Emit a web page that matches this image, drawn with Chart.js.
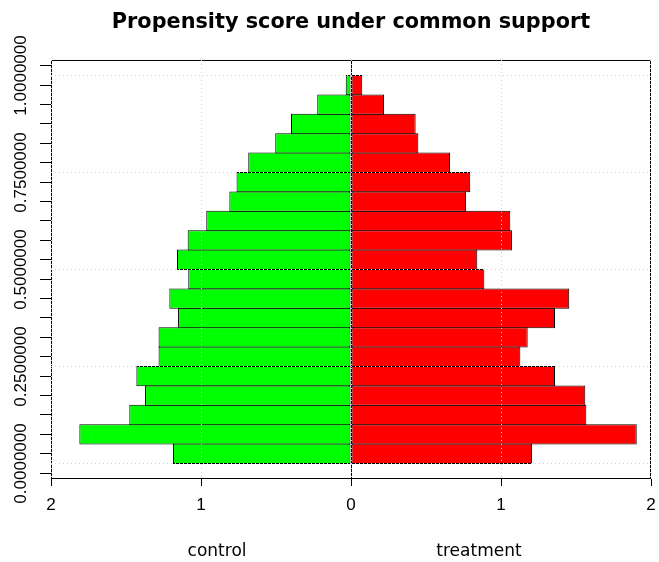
<!DOCTYPE html>
<html>
<head>
<meta charset="utf-8">
<script src="https://cdn.jsdelivr.net/npm/chart.js@4/dist/chart.umd.min.js"></script>
<style>
  html, body { margin: 0; padding: 0; background: #ffffff; }
  #c { display: block; }
</style>
</head>
<body>
<canvas id="c" width="659" height="562"></canvas>
<script>
// Propensity score bins (lower edge of each 0.05-wide bin)
const binLower = [0.00, 0.05, 0.10, 0.15, 0.20, 0.25, 0.30, 0.35, 0.40, 0.45,
                  0.50, 0.55, 0.60, 0.65, 0.70, 0.75, 0.80, 0.85, 0.90, 0.95];
const binWidth = 0.05;

// Density of each group per bin (bottom bin first)
const controlDensity = [1.187, 1.811, 1.478, 1.373, 1.431, 1.283, 1.283, 1.153, 1.211, 1.085,
                        1.160, 1.089, 0.965, 0.811, 0.763, 0.685, 0.505, 0.400, 0.225, 0.035];
const treatmentDensity = [1.207, 1.905, 1.569, 1.562, 1.360, 1.129, 1.178, 1.360, 1.455, 0.889,
                          0.842, 1.073, 1.062, 0.767, 0.795, 0.660, 0.449, 0.431, 0.220, 0.075];

// Axis ticks
const xTickValues = [-2, -1, 0, 1, 2];
const yTickValues = [0.00, 0.05, 0.10, 0.15, 0.20, 0.25, 0.30, 0.35, 0.40, 0.45, 0.50,
                     0.55, 0.60, 0.65, 0.70, 0.75, 0.80, 0.85, 0.90, 0.95, 1.00];
const yLabelValues = [0.00, 0.25, 0.50, 0.75, 1.00];
const groupNames = ['control', 'treatment'];
const groupNameAt = [-0.893, 0.853];

const titleText = 'Propensity score under common support';

// Control bars extend to the left, treatment bars to the right
const controlPoints = controlDensity.map((d, i) => ({ x: -d, y: binLower[i] + binWidth / 2 }));
const treatmentPoints = treatmentDensity.map((d, i) => ({ x: d, y: binLower[i] + binWidth / 2 }));

const isLabelTick = v => yLabelValues.some(l => Math.abs(l - v) < 1e-9);

// Dotted grid, zero line and plot box drawn over the bars
const framePlugin = {
  id: 'frame',
  afterDatasetsDraw(chart) {
    const { ctx, chartArea: a, scales: { x, y } } = chart;
    ctx.save();
    ctx.lineWidth = 1;
    ctx.strokeStyle = '#000000';
    ctx.setLineDash([]);
    ctx.strokeRect(a.left + 0.5, a.top + 0.5, a.right - a.left - 1, a.bottom - a.top - 1);
    const x0 = Math.round(x.getPixelForValue(0)) + 0.5;
    ctx.beginPath();
    ctx.moveTo(x0, a.top);
    ctx.lineTo(x0, a.bottom);
    ctx.stroke();

    ctx.strokeStyle = '#d3d3d3';
    ctx.setLineDash([1, 3]);
    ctx.beginPath();
    xTickValues.forEach(v => {
      let px = Math.round(x.getPixelForValue(v)) + 0.5;
      if (px > a.right) px = a.right - 0.5;
      ctx.moveTo(px, a.top);
      ctx.lineTo(px, a.bottom);
    });
    yLabelValues.forEach(v => {
      const py = Math.round(y.getPixelForValue(v)) + 0.5;
      ctx.moveTo(a.left, py);
      ctx.lineTo(a.right, py);
    });
    ctx.stroke();
    ctx.restore();
  },
  afterDraw(chart) {
    const { ctx, scales: { x } } = chart;
    ctx.save();
    ctx.fillStyle = '#000000';
    ctx.font = '17px "DejaVu Sans"';
    ctx.textAlign = 'center';
    ctx.textBaseline = 'alphabetic';
    groupNames.forEach((name, i) => {
      ctx.fillText(name, x.getPixelForValue(groupNameAt[i]), 556);
    });
    ctx.restore();
  }
};

new Chart(document.getElementById('c'), {
  type: 'bar',
  data: {
    datasets: [
      {
        label: 'control',
        data: controlPoints,
        backgroundColor: '#00ff00',
        borderColor: '#000000',
        borderWidth: 1,
        borderSkipped: false,
        grouped: false,
        barPercentage: 1.05,
        categoryPercentage: 1.0
      },
      {
        label: 'treatment',
        data: treatmentPoints,
        backgroundColor: '#ff0000',
        borderColor: '#000000',
        borderWidth: 1,
        borderSkipped: false,
        grouped: false,
        barPercentage: 1.05,
        categoryPercentage: 1.0
      }
    ]
  },
  options: {
    responsive: false,
    animation: false,
    devicePixelRatio: 1,
    indexAxis: 'y',
    layout: { padding: { left: 0, right: 8, top: 0, bottom: 0 } },
    plugins: {
      legend: { display: false },
      tooltip: { enabled: false },
      title: {
        display: true,
        text: titleText,
        fullSize: false,
        color: '#000000',
        font: { family: '"DejaVu Sans"', size: 20.8, weight: 'bold', lineHeight: 1.2 },
        padding: { top: 10, bottom: 25.0 }
      }
    },
    scales: {
      x: {
        type: 'linear',
        min: -2,
        max: 2,
        afterBuildTicks: s => { s.ticks = xTickValues.map(v => ({ value: v })); },
        afterFit: s => {
          s.height = 83;
          s.paddingLeft = 0;
          s.paddingRight = 0;
        },
        ticks: {
          callback: v => String(Math.abs(v)),
          color: '#000000',
          font: { family: '"Liberation Sans"', size: 17 },
          padding: 9,
          maxRotation: 0,
          autoSkip: false
        },
        grid: { drawOnChartArea: false, drawTicks: true, tickLength: 7, tickColor: '#000000' },
        border: { display: false }
      },
      y: {
        type: 'linear',
        offset: false,
        min: -0.04,
        max: 1.04,
        afterBuildTicks: s => { s.ticks = yTickValues.map(v => ({ value: v })); },
        afterFit: s => {
          s.width = 51;
          s.paddingTop = 0;
          s.paddingBottom = 0;
        },
        ticks: {
          callback: v => (isLabelTick(v) ? v.toFixed(7) : ''),
          color: '#000000',
          font: { family: '"Liberation Sans"', size: 17 },
          minRotation: 90,
          maxRotation: 90,
          crossAlign: 'center',
          padding: -21,
          autoSkip: false
        },
        grid: { drawOnChartArea: false, drawTicks: true, tickLength: 11, tickColor: '#000000' },
        border: { display: false }
      }
    }
  },
  plugins: [framePlugin]
});
</script>
</body>
</html>
